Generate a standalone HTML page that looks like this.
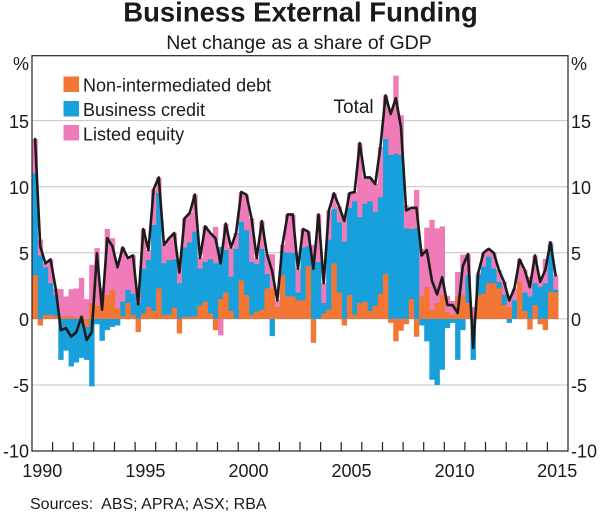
<!DOCTYPE html>
<html><head><meta charset="utf-8"><style>
body{margin:0;background:#fff}
svg{display:block}
text{font-family:"Liberation Sans",Arial,sans-serif;fill:#1a1a1a}
</style></head><body>
<svg width="600" height="512" viewBox="0 0 600 512" xmlns="http://www.w3.org/2000/svg">
<rect width="600" height="512" fill="#fff"/>
<text x="300.5" y="21.5" font-size="27.5" font-weight="bold" text-anchor="middle">Business External Funding</text>
<text x="299" y="49" font-size="19.5" text-anchor="middle">Net change as a share of GDP</text>

<g stroke="#c4c4c4" stroke-width="1">
<line x1="32" y1="120.6" x2="568" y2="120.6"/>
<line x1="32" y1="186.7" x2="568" y2="186.7"/>
<line x1="32" y1="252.8" x2="568" y2="252.8"/>
<line x1="32" y1="318.9" x2="568" y2="318.9"/>
<line x1="32" y1="385" x2="568" y2="385"/>
</g>

<g transform="translate(32.5 318.9) scale(5.1538 -13.22)">
<path fill="#ef7cb9" d="M0 0h1.04v13.6h-1.04z M1 0h1.04v6h-1.04z M2 0h1.04v4.2h-1.04z M3 0h1.04v4.5h-1.04z M4 0h1.04v2.3h-1.04z M5 0h1.04v2.25h-1.04z M6 0h1.04v1.7h-1.04z M7 0h1.04v2.25h-1.04z M8 0h1.04v2.3h-1.04z M9 0h1.04v3.1h-1.04z M10 0h1.04v1.5h-1.04z M11 0h1.04v4.1h-1.04z M12 0h1.04v5.35h-1.04z M13 0h1.04v2.35h-1.04z M14 0h1.04v6.8h-1.04z M15 0h1.04v6.1h-1.04z M16 0h1.04v4.4h-1.04z M17 0h1.04v5.4h-1.04z M18 0h1.04v4.6h-1.04z M19 0h1.04v4.8h-1.04z M20 0h1.04v2.1h-1.04z M21 0h1.04v6.8h-1.04z M22 0h1.04v5.2h-1.04z M23 0h1.04v9.8h-1.04z M24 0h1.04v10.7h-1.04z M25 0h1.04v5.6h-1.04z M26 0h1.04v6.1h-1.04z M27 0h1.04v6.5h-1.04z M28 0h1.04v4.6h-1.04z M29 0h1.04v7.6h-1.04z M30 0h1.04v8h-1.04z M31 0h1.04v9.4h-1.04z M32 0h1.04v4.6h-1.04z M33 0h1.04v7h-1.04z M34 0h1.04v6.5h-1.04z M35 0h1.04v6.95h-1.04z M36 0h1.04v-1.25h-1.04z M37 0h1.04v7.2h-1.04z M38 0h1.04v5.4h-1.04z M39 0h1.04v6.5h-1.04z M40 0h1.04v9.6h-1.04z M41 0h1.04v9.4h-1.04z M42 0h1.04v7.6h-1.04z M43 0h1.04v4.6h-1.04z M44 0h1.04v7.4h-1.04z M45 0h1.04v4.9h-1.04z M46 0h1.04v4.9h-1.04z M47 0h1.04v1.4h-1.04z M48 0h1.04v5.6h-1.04z M49 0h1.04v7.9h-1.04z M50 0h1.04v7.9h-1.04z M51 0h1.04v3.8h-1.04z M52 0h1.04v6.8h-1.04z M53 0h1.04v6.6h-1.04z M54 0h1.04v5.6h-1.04z M55 0h1.04v7.9h-1.04z M56 0h1.04v2.7h-1.04z M57 0h1.04v8.2h-1.04z M58 0h1.04v9.5h-1.04z M59 0h1.04v8.5h-1.04z M60 0h1.04v7.9h-1.04z M61 0h1.04v9.5h-1.04z M62 0h1.04v9.6h-1.04z M63 0h1.04v13.3h-1.04z M64 0h1.04v10.7h-1.04z M65 0h1.04v10.7h-1.04z M66 0h1.04v10.2h-1.04z M67 0h1.04v13h-1.04z M68 0h1.04v16.9h-1.04z M69 0h1.04v15.8h-1.04z M70 0h1.04v18.4h-1.04z M71 0h1.04v15.4h-1.04z M72 0h1.04v8.6h-1.04z M73 0h1.04v8.4h-1.04z M74 0h1.04v9.75h-1.04z M75 0h1.04v5.3h-1.04z M76 0h1.04v6.9h-1.04z M77 0h1.04v7.5h-1.04z M78 0h1.04v6.85h-1.04z M79 0h1.04v7h-1.04z M80 0h1.04v1.75h-1.04z M81 0h1.04v1.35h-1.04z M82 0h1.04v3.55h-1.04z M83 0h1.04v4.85h-1.04z M84 0h1.04v4.9h-1.04z M85 0h1.04v0.9h-1.04z M86 0h1.04v3.5h-1.04z M87 0h1.04v5h-1.04z M88 0h1.04v5.3h-1.04z M89 0h1.04v5h-1.04z M90 0h1.04v3.7h-1.04z M91 0h1.04v2.8h-1.04z M92 0h1.04v1.7h-1.04z M93 0h1.04v2.3h-1.04z M94 0h1.04v4.5h-1.04z M95 0h1.04v3.7h-1.04z M96 0h1.04v3.2h-1.04z M97 0h1.04v4.8h-1.04z M98 0h1.04v3.2h-1.04z M99 0h1.04v4.55h-1.04z M100 0h1.04v5.8h-1.04z M101 0h1.04v3.3h-1.04z"/>
<path fill="#17a0db" d="M0 0h1.04v11h-1.04z M1 0h1.04v4.8h-1.04z M2 0h1.04v3.9h-1.04z M3 0h1.04v2.7h-1.04z M4 0h1.04v1.8h-1.04z M5 0h1.04v-3.1h-1.04z M6 0h1.04v-2.4h-1.04z M7 0h1.04v-3.6h-1.04z M8 0h1.04v-3.3h-1.04z M9 0h1.04v-2.95h-1.04z M10 0h1.04v-3.1h-1.04z M11 0h1.04v-5.1h-1.04z M12 0h1.04v-0.4h-1.04z M13 0h1.04v-1.65h-1.04z M14 0h1.04v-0.85h-1.04z M15 0h1.04v-0.6h-1.04z M16 0h1.04v-0.5h-1.04z M17 0h1.04v1.3h-1.04z M18 0h1.04v2.2h-1.04z M19 0h1.04v1.9h-1.04z M20 0h1.04v1.2h-1.04z M21 0h1.04v3.8h-1.04z M22 0h1.04v4.45h-1.04z M23 0h1.04v7.1h-1.04z M24 0h1.04v9.5h-1.04z M25 0h1.04v4.2h-1.04z M26 0h1.04v4.45h-1.04z M27 0h1.04v4.5h-1.04z M28 0h1.04v2.7h-1.04z M29 0h1.04v5.4h-1.04z M30 0h1.04v5.8h-1.04z M31 0h1.04v6.6h-1.04z M32 0h1.04v3.8h-1.04z M33 0h1.04v4.3h-1.04z M34 0h1.04v4.5h-1.04z M35 0h1.04v4.2h-1.04z M36 0h1.04v5.45h-1.04z M37 0h1.04v5.2h-1.04z M38 0h1.04v3.2h-1.04z M39 0h1.04v5.3h-1.04z M40 0h1.04v7.35h-1.04z M41 0h1.04v6.7h-1.04z M42 0h1.04v4.3h-1.04z M43 0h1.04v4.15h-1.04z M44 0h1.04v5.3h-1.04z M45 0h1.04v3.4h-1.04z M46 0h1.04v-1.3h-1.04z M48 0h1.04v5.1h-1.04z M49 0h1.04v5h-1.04z M50 0h1.04v5h-1.04z M51 0h1.04v2h-1.04z M52 0h1.04v5.4h-1.04z M53 0h1.04v5.5h-1.04z M54 0h1.04v4.3h-1.04z M55 0h1.04v4.3h-1.04z M56 0h1.04v1.2h-1.04z M57 0h1.04v6h-1.04z M58 0h1.04v8.3h-1.04z M59 0h1.04v7.3h-1.04z M60 0h1.04v5.85h-1.04z M61 0h1.04v8.4h-1.04z M62 0h1.04v8.9h-1.04z M63 0h1.04v7.7h-1.04z M64 0h1.04v8.7h-1.04z M65 0h1.04v8.9h-1.04z M66 0h1.04v8.1h-1.04z M67 0h1.04v9.2h-1.04z M68 0h1.04v13.6h-1.04z M69 0h1.04v12.4h-1.04z M70 0h1.04v12.5h-1.04z M71 0h1.04v12.4h-1.04z M72 0h1.04v6.85h-1.04z M73 0h1.04v6.8h-1.04z M74 0h1.04v6.85h-1.04z M75 0h1.04v-0.5h-1.04z M76 0h1.04v-1.7h-1.04z M77 0h1.04v-4.6h-1.04z M78 0h1.04v-5h-1.04z M79 0h1.04v-3.85h-1.04z M80 0h1.04v-0.7h-1.04z M81 0h1.04v-0.3h-1.04z M82 0h1.04v-3.1h-1.04z M83 0h1.04v-0.85h-1.04z M84 0h1.04v3.3h-1.04z M85 0h1.04v-3.1h-1.04z M86 0h1.04v3.3h-1.04z M87 0h1.04v3.95h-1.04z M88 0h1.04v4.7h-1.04z M89 0h1.04v3.8h-1.04z M90 0h1.04v2.8h-1.04z M91 0h1.04v1.85h-1.04z M92 0h1.04v-0.3h-1.04z M93 0h1.04v1.4h-1.04z M95 0h1.04v2h-1.04z M96 0h1.04v1.7h-1.04z M97 0h1.04v2.7h-1.04z M98 0h1.04v2.4h-1.04z M99 0h1.04v2.7h-1.04z M100 0h1.04v5.6h-1.04z M101 0h1.04v2.2h-1.04z"/>
<path fill="#f37634" d="M0 0h1.04v3.3h-1.04z M1 0h1.04v-0.5h-1.04z M2 0h1.04v0.3h-1.04z M3 0h1.04v0.3h-1.04z M4 0h1.04v0.2h-1.04z M5 0h1.04v0.2h-1.04z M6 0h1.04v0.2h-1.04z M7 0h1.04v0.2h-1.04z M8 0h1.04v0.1h-1.04z M9 0h1.04v0.3h-1.04z M10 0h1.04v-0.6h-1.04z M11 0h1.04v1.2h-1.04z M12 0h1.04v1h-1.04z M13 0h1.04v1.8h-1.04z M14 0h1.04v1.8h-1.04z M15 0h1.04v2.2h-1.04z M16 0h1.04v0.8h-1.04z M17 0h1.04v0.2h-1.04z M18 0h1.04v1.2h-1.04z M19 0h1.04v0.3h-1.04z M20 0h1.04v-1h-1.04z M21 0h1.04v0.4h-1.04z M22 0h1.04v0.9h-1.04z M23 0h1.04v0.6h-1.04z M24 0h1.04v2.3h-1.04z M25 0h1.04v0.3h-1.04z M26 0h1.04v0.3h-1.04z M27 0h1.04v0.85h-1.04z M28 0h1.04v-1.1h-1.04z M29 0h1.04v0.15h-1.04z M30 0h1.04v0.15h-1.04z M31 0h1.04v0.2h-1.04z M32 0h1.04v1h-1.04z M33 0h1.04v1.3h-1.04z M34 0h1.04v0.4h-1.04z M35 0h1.04v-0.85h-1.04z M36 0h1.04v1.5h-1.04z M37 0h1.04v2h-1.04z M38 0h1.04v0.6h-1.04z M39 0h1.04v0.05h-1.04z M40 0h1.04v2.9h-1.04z M41 0h1.04v1.8h-1.04z M42 0h1.04v0.3h-1.04z M43 0h1.04v0.55h-1.04z M44 0h1.04v0.7h-1.04z M45 0h1.04v2.3h-1.04z M46 0h1.04v2.3h-1.04z M47 0h1.04v0.9h-1.04z M48 0h1.04v3.3h-1.04z M49 0h1.04v1.7h-1.04z M50 0h1.04v1.7h-1.04z M51 0h1.04v1.4h-1.04z M52 0h1.04v1.4h-1.04z M53 0h1.04v4h-1.04z M54 0h1.04v-1.8h-1.04z M56 0h1.04v0.4h-1.04z M57 0h1.04v0.7h-1.04z M58 0h1.04v4.2h-1.04z M59 0h1.04v2h-1.04z M60 0h1.04v-0.5h-1.04z M61 0h1.04v1.8h-1.04z M62 0h1.04v0.3h-1.04z M63 0h1.04v1.2h-1.04z M64 0h1.04v1.3h-1.04z M65 0h1.04v0.6h-1.04z M66 0h1.04v1h-1.04z M67 0h1.04v1.9h-1.04z M68 0h1.04v3.4h-1.04z M69 0h1.04v-0.3h-1.04z M70 0h1.04v-1.7h-1.04z M71 0h1.04v-0.9h-1.04z M72 0h1.04v-0.4h-1.04z M73 0h1.04v1.5h-1.04z M74 0h1.04v-1.35h-1.04z M75 0h1.04v1.7h-1.04z M76 0h1.04v2.4h-1.04z M77 0h1.04v0.7h-1.04z M78 0h1.04v1.2h-1.04z M79 0h1.04v1.8h-1.04z M80 0h1.04v0.5h-1.04z M81 0h1.04v0.3h-1.04z M82 0h1.04v1.7h-1.04z M83 0h1.04v1.8h-1.04z M84 0h1.04v1.2h-1.04z M85 0h1.04v0.2h-1.04z M86 0h1.04v1.8h-1.04z M87 0h1.04v1.9h-1.04z M88 0h1.04v2.7h-1.04z M89 0h1.04v2.7h-1.04z M90 0h1.04v2.3h-1.04z M91 0h1.04v1.05h-1.04z M92 0h1.04v0.9h-1.04z M94 0h1.04v2.85h-1.04z M95 0h1.04v0.6h-1.04z M96 0h1.04v-0.8h-1.04z M97 0h1.04v1.05h-1.04z M98 0h1.04v-0.4h-1.04z M99 0h1.04v-0.85h-1.04z M100 0h1.04v2.05h-1.04z M101 0h1.04v2h-1.04z"/>
<polyline fill="none" stroke="#1c1c1c" stroke-width="2.6" stroke-linejoin="round" stroke-linecap="round" vector-effect="non-scaling-stroke" points="0.5,13.6 1.5,5.5 2.5,4.2 3.5,4.5 4.5,2.3 5.5,-0.85 6.5,-0.7 7.5,-1.35 8.5,-1 9.5,0.15 10.5,-1.6 11.5,-1 12.5,4.95 13.5,0.7 14.5,6.1 15.5,5.5 16.5,3.9 17.5,5.4 18.5,4.6 19.5,4.8 20.5,1.1 21.5,6.8 22.5,5.2 23.5,9.8 24.5,10.7 25.5,5.6 26.5,6.1 27.5,6.5 28.5,3.5 29.5,7.6 30.5,8 31.5,9.4 32.5,4.6 33.5,7 34.5,6.5 35.5,6.1 36.5,4.2 37.5,7.2 38.5,5.4 39.5,6.5 40.5,9.6 41.5,9.4 42.5,7.6 43.5,4.6 44.5,7.4 45.5,4.9 46.5,3.6 47.5,1.4 48.5,5.6 49.5,7.9 50.5,7.9 51.5,3.8 52.5,6.8 53.5,6.6 54.5,3.8 55.5,7.9 56.5,2.7 57.5,8.2 58.5,9.5 59.5,8.5 60.5,7.4 61.5,9.5 62.5,9.6 63.5,13.3 64.5,10.7 65.5,10.7 66.5,10.2 67.5,13 68.5,16.9 69.5,15.5 70.5,16.7 71.5,14.5 72.5,8.2 73.5,8.4 74.5,8.4 75.5,4.8 76.5,5.2 77.5,2.9 78.5,1.85 79.5,3.15 80.5,1.05 81.5,1.05 82.5,0.45 83.5,4 84.5,4.9 85.5,-2.2 86.5,3.5 87.5,5 88.5,5.3 89.5,5 90.5,3.7 91.5,2.8 92.5,1.4 93.5,2.3 94.5,4.5 95.5,3.7 96.5,2.4 97.5,4.8 98.5,2.8 99.5,3.7 100.5,5.8 101.5,3.3"/>
</g>

<rect x="32" y="55.7" width="536" height="395.3" fill="none" stroke="#222" stroke-width="1.2"/>
<g stroke="#222" stroke-width="1.2">
<line x1="52.6" y1="442" x2="52.6" y2="451"/>
<line x1="73.2" y1="442" x2="73.2" y2="451"/>
<line x1="93.8" y1="442" x2="93.8" y2="451"/>
<line x1="114.5" y1="442" x2="114.5" y2="451"/>
<line x1="135.1" y1="442" x2="135.1" y2="451"/>
<line x1="155.7" y1="442" x2="155.7" y2="451"/>
<line x1="176.3" y1="442" x2="176.3" y2="451"/>
<line x1="196.9" y1="442" x2="196.9" y2="451"/>
<line x1="217.5" y1="442" x2="217.5" y2="451"/>
<line x1="238.2" y1="442" x2="238.2" y2="451"/>
<line x1="258.8" y1="442" x2="258.8" y2="451"/>
<line x1="279.4" y1="442" x2="279.4" y2="451"/>
<line x1="300" y1="442" x2="300" y2="451"/>
<line x1="320.6" y1="442" x2="320.6" y2="451"/>
<line x1="341.2" y1="442" x2="341.2" y2="451"/>
<line x1="361.8" y1="442" x2="361.8" y2="451"/>
<line x1="382.5" y1="442" x2="382.5" y2="451"/>
<line x1="403.1" y1="442" x2="403.1" y2="451"/>
<line x1="423.7" y1="442" x2="423.7" y2="451"/>
<line x1="444.3" y1="442" x2="444.3" y2="451"/>
<line x1="464.9" y1="442" x2="464.9" y2="451"/>
<line x1="485.5" y1="442" x2="485.5" y2="451"/>
<line x1="506.2" y1="442" x2="506.2" y2="451"/>
<line x1="526.8" y1="442" x2="526.8" y2="451"/>
<line x1="547.4" y1="442" x2="547.4" y2="451"/>
</g>

<g font-size="18" text-anchor="end">
<text x="29" y="70">%</text>
<text x="29" y="127.8">15</text>
<text x="29" y="193.9">10</text>
<text x="29" y="260">5</text>
<text x="29" y="326.1">0</text>
<text x="29" y="392.2">-5</text>
<text x="29" y="457.5">-10</text>
</g>
<g font-size="18" text-anchor="start">
<text x="571" y="70">%</text>
<text x="571" y="127.8">15</text>
<text x="571" y="193.9">10</text>
<text x="571" y="260">5</text>
<text x="571" y="326.1">0</text>
<text x="571" y="392.2">-5</text>
<text x="571" y="457.5">-10</text>
</g>
<g font-size="18" text-anchor="middle">
<text x="42.3" y="477">1990</text>
<text x="145.4" y="477">1995</text>
<text x="248.5" y="477">2000</text>
<text x="351.5" y="477">2005</text>
<text x="454.6" y="477">2010</text>
<text x="557.2" y="477">2015</text>
</g>

<rect x="63.5" y="76.5" width="15.5" height="15.5" fill="#f37634"/>
<rect x="63.5" y="101" width="15.5" height="15.5" fill="#17a0db"/>
<rect x="63.5" y="125" width="15.5" height="15.5" fill="#ef7cb9"/>
<g font-size="18">
<text x="83" y="91.5">Non-intermediated debt</text>
<text x="83" y="116">Business credit</text>
<text x="83" y="140.3">Listed equity</text>
<text x="333.5" y="113" font-size="19">Total</text>
</g>
<text x="30" y="509" font-size="16" style="white-space:pre">Sources:  ABS; APRA; ASX; RBA</text>
</svg>
</body></html>
